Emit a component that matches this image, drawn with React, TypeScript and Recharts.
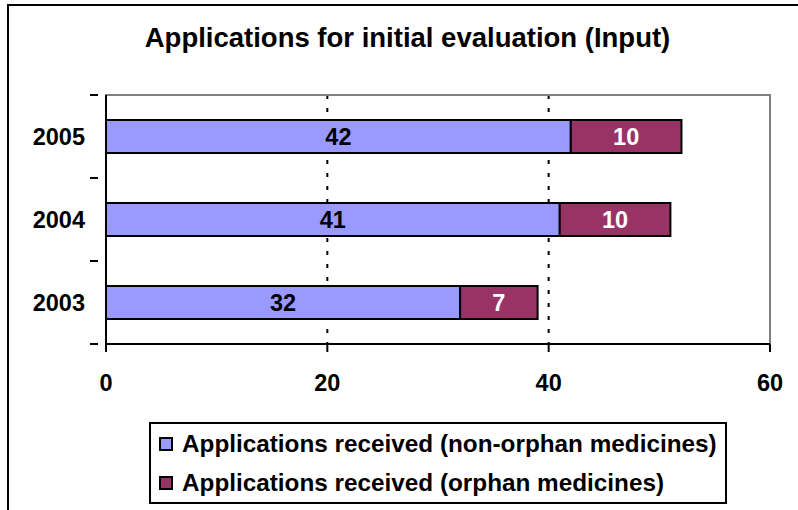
import React from 'react';
import { BarChart, Bar, XAxis, YAxis, CartesianGrid, ReferenceArea, LabelList } from 'recharts';

const years = ['2005', '2004', '2003'];
const nonOrphan = [42, 41, 32];
const orphan = [10, 10, 7];
const xTicks = [0, 20, 40, 60];
const seriesNames = ['Applications received (non-orphan medicines)', 'Applications received (orphan medicines)'];
const seriesColors = ['#9999FF', '#993366'];

const data = years.map((year, i) => ({ year, nonOrphan: nonOrphan[i], orphan: orphan[i] }));

const FONT = '"Liberation Sans", Arial, Helvetica, sans-serif';
const W = 798;
const H = 510;
const margin = { top: 95, right: 28, bottom: 106, left: 6 };
const xAxisHeight = 60;
const band = (H - margin.top - margin.bottom - xAxisHeight) / years.length;

function YearTick({ x, y, payload }: { x?: number; y?: number; payload?: { value: string } }) {
  if (x == null || y == null || !payload) return null;
  return (
    <g>
      <line x1={x - 8} x2={x} y1={y - band / 2} y2={y - band / 2} stroke="#000" strokeWidth={2} />
      <line x1={x - 8} x2={x} y1={y + band / 2} y2={y + band / 2} stroke="#000" strokeWidth={2} />
      <text x={x - 13} y={y} dy="0.36em" textAnchor="end" fontFamily={FONT} fontWeight="bold" fontSize={23.5} fill="#000">
        {payload.value}
      </text>
    </g>
  );
}

export default function App() {
  return (
    <div style={{ position: 'absolute', left: 0, top: 0, width: W, height: H, background: '#fff', overflow: 'hidden', fontFamily: FONT }}>
      <div style={{ position: 'absolute', left: 7, top: 4, width: W + 20, height: H + 20, border: '2px solid #000', boxSizing: 'border-box' }} />
      <div style={{ position: 'absolute', left: 0, width: 815, top: 22, textAlign: 'center', fontWeight: 'bold', fontSize: 27.5, color: '#000' }}>
        Applications for initial evaluation (Input)
      </div>
      <div style={{ position: 'absolute', left: 0, top: 0 }}>
        <BarChart width={W} height={H} data={data} layout="vertical" margin={margin}>
          <ReferenceArea x1={0} x2={60} fill="none" stroke="#808080" strokeWidth={2} />
          <CartesianGrid horizontal={false} stroke="#000" strokeWidth={2} strokeDasharray="4 9" />
          <XAxis
            type="number"
            domain={[0, 60]}
            ticks={xTicks}
            height={xAxisHeight}
            axisLine={{ stroke: '#000', strokeWidth: 2 }}
            tickLine={{ stroke: '#000', strokeWidth: 2 }}
            tickSize={8}
            tickMargin={22}
            tick={{ fill: '#000', fontFamily: FONT, fontWeight: 'bold', fontSize: 23.5 }}
          />
          <YAxis
            type="category"
            dataKey="year"
            width={100}
            axisLine={{ stroke: '#000', strokeWidth: 2 }}
            tickLine={false}
            tick={<YearTick />}
          />
          <Bar dataKey="nonOrphan" stackId="a" fill={seriesColors[0]} stroke="#000" strokeWidth={2} barSize={33} isAnimationActive={false}>
            <LabelList dataKey="nonOrphan" position="center" fill="#000" fontFamily={FONT} fontWeight="bold" fontSize={23.5} />
          </Bar>
          <Bar dataKey="orphan" stackId="a" fill={seriesColors[1]} stroke="#000" strokeWidth={2} barSize={33} isAnimationActive={false}>
            <LabelList dataKey="orphan" position="center" fill="#fff" fontFamily={FONT} fontWeight="bold" fontSize={23.5} />
          </Bar>
        </BarChart>
      </div>
      <div style={{ position: 'absolute', left: 149, top: 422, width: 578, height: 82, border: '2px solid #000', boxSizing: 'border-box', padding: '0 0 0 8px' }}>
        {seriesNames.map((name, i) => (
          <div key={name} style={{ display: 'flex', alignItems: 'center', height: 39, fontWeight: 'bold', fontSize: 24.3, color: '#000', whiteSpace: 'nowrap' }}>
            <span style={{ width: 14, height: 14, background: seriesColors[i], border: '2px solid #000', boxSizing: 'border-box', marginRight: 9, flexShrink: 0 }} />
            {name}
          </div>
        ))}
      </div>
    </div>
  );
}
